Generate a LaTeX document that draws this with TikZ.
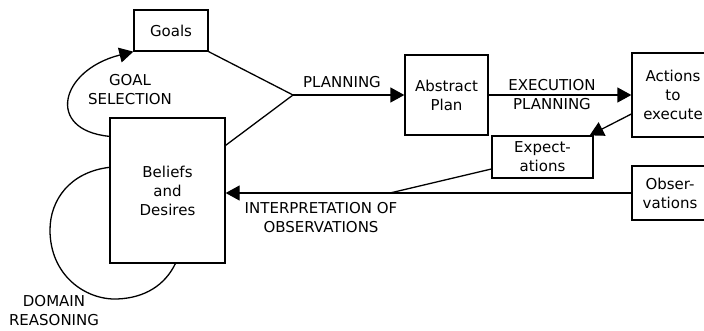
\documentclass[tikz,border=0pt]{standalone}
\usepackage{fontspec}
\setmainfont{DejaVu Sans}
\usetikzlibrary{arrows.meta,calc}

\begin{document}
\begin{tikzpicture}[x=1pt,y=-1pt,line width=1.3pt,
  font=\fontsize{15}{19}\selectfont,
  box/.style={draw,inner sep=0pt,align=center},
  lbl/.style={inner sep=0pt,align=center},
  arr/.style={-{Triangle[length=14pt,width=15pt]}}]
\useasboundingbox (0,0) rectangle (704,330);
\clip (0,0) rectangle (704,330);

% boxes
\node[box,minimum width=74,minimum height=41] (g) at (171,30.5) {Goals};
\node[box,minimum width=115,minimum height=145] (bd) at (167.5,190.5) {Beliefs\\and\\Desires};
\node[box,minimum width=83,minimum height=80] (ap) at (446.5,95) {Abstract\\Plan};
\node[box,minimum width=82,minimum height=84] (act) at (673,95) {Actions\\to\\execute};
\node[box,minimum width=101,minimum height=42] (ex) at (542.5,157) {Expect-\\ations};
\node[box,minimum width=76,minimum height=54] (obs) at (670,193) {Obser-\\vations};

% junction points
\coordinate (j) at (293,95);
\coordinate (k) at (390,193);

% planning
\draw (g.south east) -- (j);
\draw ([yshift=-28pt]bd.north east) -- (j);
\draw[arr] (j) -- (ap.west);
\node[lbl] (lplan) at (342,82) {PLANNING};

% execution planning
\draw[arr] (ap.east) -- (ap.east -| act.west);
\node[lbl] (lexec) at (552,94.5) {EXECUTION\\PLANNING};

% expectations
\draw[arr] ([yshift=-19pt]act.west) -- ([xshift=-4pt]ex.north east);

% interpretation of observations
\draw[arr] (obs.west) -- (obs.west -| bd.east);
\draw ([yshift=-12pt]ex.west) -- (k);
\node[lbl] (linterp) at (321,218) {INTERPRETATION OF\\OBSERVATIONS};

% goal selection loop
\draw[arr] ([yshift=-19pt]bd.north west) .. controls (45,130) and (60,70) .. (g.south west);
\node[lbl] (lgoal) at (130,89.5) {GOAL\\SELECTION};

% domain reasoning loop
\draw ([yshift=-50pt]bd.north west) .. controls (70,172) and (50,200) .. (50,230)
  .. controls (50,275) and (85,300) .. (117,299)
  .. controls (145,298) and (165,285) .. ([xshift=66pt]bd.south west);
\node[lbl] (ldom) at (54,311) {DOMAIN\\REASONING};
\end{tikzpicture}
\end{document}
